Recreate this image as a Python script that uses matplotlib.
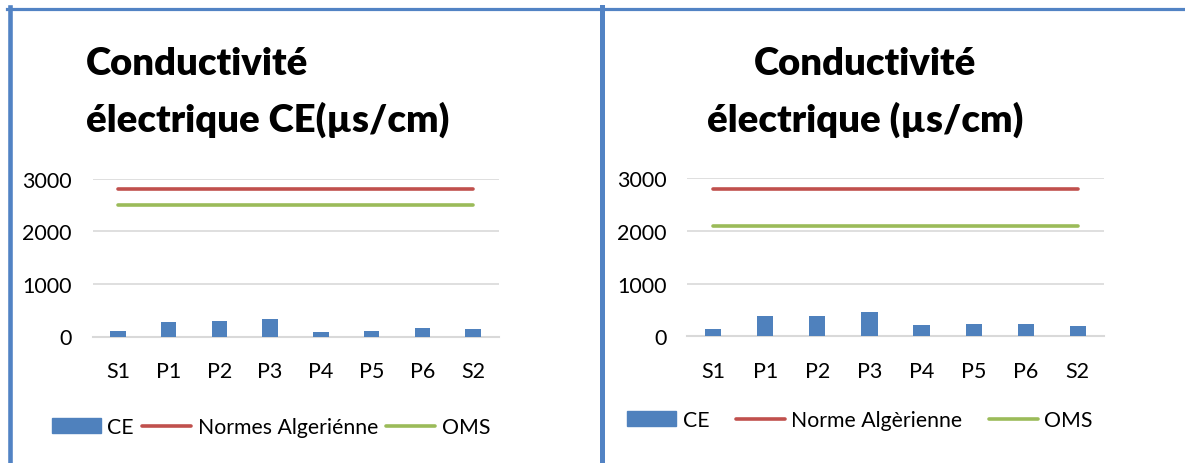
import matplotlib
matplotlib.use("Agg")
import matplotlib.pyplot as plt
from matplotlib.patches import Patch
from matplotlib.lines import Line2D
import numpy as np

plt.rcParams['font.family'] = ['Lato', 'DejaVu Sans']

categories = ["S1", "P1", "P2", "P3", "P4", "P5", "P6", "S2"]
ce_left = [95, 266, 293, 330, 76, 108, 152, 146]
ce_right = [139, 392, 392, 468, 215, 234, 240, 202]
norme_left = 2800
oms_left = 2500
norme_right = 2800
oms_right = 2100
yticks = [0, 1000, 2000, 3000]

title_left = ["Conductivité", "électrique CE(µs/cm)"]
title_right = ["Conductivité", "électrique (µs/cm)"]
legend_left = ["CE", "Normes Algeriénne", "OMS"]
legend_right = ["CE", "Norme Algèrienne", "OMS"]

BLUE = "#4f81bd"
RED = "#c0504d"
GREEN = "#9bbb59"
GRID = "#d9d9d9"
FRAME = "#5283c4"

W, H = 1185, 464
fig = plt.figure(figsize=(W / 100, H / 100), dpi=100)


def px(x0, y0, w, h):
    return [x0 / W, 1 - (y0 + h) / H, w / W, h / H]


def draw(ax, ce, norme, oms):
    x = np.arange(len(categories))
    ax.bar(x, ce, width=0.31, color=BLUE, zorder=3)
    ax.plot([x[0], x[-1]], [norme, norme], color=RED, lw=2.6,
            solid_capstyle='round', zorder=4)
    ax.plot([x[0], x[-1]], [oms, oms], color=GREEN, lw=2.6,
            solid_capstyle='round', zorder=4)
    ax.set_xlim(-0.5, len(categories) - 0.5)
    ax.set_ylim(0, 3000)
    ax.set_yticks(yticks)
    ax.set_xticks(x)
    ax.set_xticklabels(categories)
    ax.grid(axis='y', color=GRID, lw=1.2, zorder=0)
    for s in ['top', 'right', 'left']:
        ax.spines[s].set_visible(False)
    ax.spines['bottom'].set_color(GRID)
    ax.spines['bottom'].set_linewidth(1.5)
    ax.tick_params(axis='both', length=0, labelsize=15.5, colors='black')
    ax.tick_params(axis='y', pad=15)
    ax.tick_params(axis='x', pad=18)


axL = fig.add_axes(px(92.5, 179.5, 406, 158))
draw(axL, ce_left, norme_left, oms_left)
axR = fig.add_axes(px(687.3, 179.3, 416.4, 158))
draw(axR, ce_right, norme_right, oms_right)

# titles
TS = 27.5
fig.text(86 / W, 1 - 75 / H, title_left[0], ha='left', va='baseline',
         fontsize=TS, fontweight='heavy')
fig.text(86 / W, 1 - 132 / H, title_left[1], ha='left', va='baseline',
         fontsize=TS, fontweight='heavy')
fig.text(865 / W, 1 - 75 / H, title_right[0], ha='center', va='baseline',
         fontsize=TS, fontweight='heavy')
fig.text(865 / W, 1 - 132 / H, title_right[1], ha='center', va='baseline',
         fontsize=TS, fontweight='heavy')


def legend(ax, labels, cx, cy, colsp):
    handles = [Patch(color=BLUE),
               Line2D([], [], color=RED, lw=2.6, solid_capstyle='round'),
               Line2D([], [], color=GREEN, lw=2.6, solid_capstyle='round')]
    fig.legend(handles, labels, loc='center', bbox_to_anchor=(cx / W, 1 - cy / H),
               ncol=3, frameon=False, fontsize=15.3, handlelength=2.3,
               handleheight=0.65, handletextpad=0.3, columnspacing=colsp,
               borderpad=0, borderaxespad=0)


legend(axL, legend_left, 271, 428, 0.4)
legend(axR, legend_right, 860, 421, 1.25)

# frame lines
fig.add_artist(Line2D([7 / W, 1], [1 - 9.5 / H, 1 - 9.5 / H], color=FRAME, lw=2.3))
fig.add_artist(Line2D([9.8 / W, 9.8 / W], [0, 1 - 8 / H], color=FRAME, lw=3.3))
fig.add_artist(Line2D([602 / W, 602 / W], [0, 1 - 8 / H], color=FRAME, lw=3.6))

fig.savefig("out.png", dpi=100)
